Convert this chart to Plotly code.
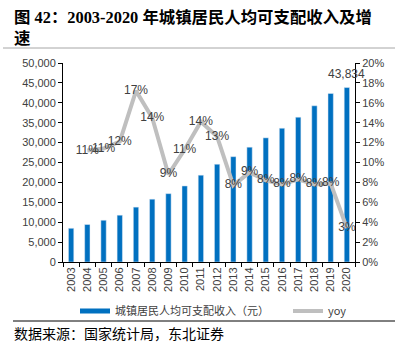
import plotly.graph_objects as go

# Urban per-capita disposable income (yuan) and year-on-year growth
years = [str(y) for y in range(2003, 2021)]
income = [8472, 9422, 10493, 11759, 13786, 15781, 17175, 19109, 21810,
          24565, 26467, 28844, 31195, 33616, 36396, 39251, 42359, 43834]
yoy = [None, 0.112, 0.114, 0.121, 0.172, 0.145, 0.088, 0.113, 0.141,
       0.126, 0.077, 0.090, 0.082, 0.078, 0.083, 0.078, 0.079, 0.034]

BLUE = "#0070C0"
GRAY = "#BFBFBF"
TXT = "#404040"
SANS = "Liberation Sans, Arial, Noto Sans CJK SC"
CJK = "Noto Sans CJK SC"

W, H = 403, 346
L, R, T, B = 63, 48, 63, 84
PW, PH = W - L - R, H - T - B


def px_x(px):
    return (px - L) / PW


def px_y(py):
    return (H - B - py) / PH


fig = go.Figure()

fig.add_trace(go.Bar(
    x=years, y=income, marker_color=BLUE, width=0.33, showlegend=False,
    name="城镇居民人均可支配收入（元）",
))

# legend entry for the bars, drawn as a wide bar-coloured stroke
fig.add_trace(go.Scatter(
    x=[None], y=[None], mode="lines", line=dict(color=BLUE, width=5),
    name="城镇居民人均可支配收入（元）", legend="legend",
))

fig.add_trace(go.Scatter(
    x=years, y=yoy, yaxis="y2", mode="lines+text", name="yoy",
    line=dict(color=GRAY, width=4), legend="legend2",
    texttemplate="%{y:.0%}", textposition="middle center",
    textfont=dict(family=SANS, size=12, color=TXT), cliponaxis=False,
))

axis_common = dict(showline=True, linecolor="black", linewidth=1,
                   ticks="outside", ticklen=4, tickcolor="black",
                   showgrid=False, zeroline=False,
                   tickfont=dict(family=SANS, size=11, color=TXT))

legend_common = dict(orientation="h", y=px_y(311), xanchor="left",
                     yanchor="middle", itemwidth=30,
                     font=dict(family=CJK, size=11, color=TXT),
                     bgcolor="rgba(0,0,0,0)")

fig.update_layout(
    width=W, height=H,
    margin=dict(l=L, r=R, t=T, b=B),
    plot_bgcolor="white", paper_bgcolor="white",
    bargap=0.6,
    xaxis=dict(type="category", tickangle=-90, tickson="boundaries",
               range=[-0.5, len(years) - 0.5], **axis_common),
    yaxis=dict(range=[0, 50000], dtick=5000, tickformat=",", **axis_common),
    yaxis2=dict(range=[0, 0.2], dtick=0.02, tickformat=".0%",
                overlaying="y", side="right", **axis_common),
    legend=dict(x=px_x(75), **legend_common),
    legend2=dict(x=px_x(288), **legend_common),
    showlegend=True,
    annotations=[
        # value label for the latest year's bar (category index position)
        dict(text=f"{income[-1]:,}", x=len(years) - 1, y=income[-1],
             xref="x", yref="y", yshift=14, showarrow=False,
             font=dict(family=SANS, size=12, color=TXT)),
        dict(text="<b>图 42：2003-2020 年城镇居民人均可支配收入及增</b>",
             xref="paper", yref="paper", x=px_x(12), y=px_y(17),
             xanchor="left", yanchor="middle", showarrow=False,
             font=dict(family="Liberation Serif, " + CJK, size=16.4, color="black")),
        dict(text="<b>速</b>",
             xref="paper", yref="paper", x=px_x(12), y=px_y(38),
             xanchor="left", yanchor="middle", showarrow=False,
             font=dict(family="Liberation Serif, " + CJK, size=16.4, color="black")),
        dict(text="数据来源：国家统计局，东北证券",
             xref="paper", yref="paper", x=px_x(12), y=px_y(333),
             xanchor="left", yanchor="middle", showarrow=False,
             font=dict(family=CJK, size=14, color="black")),
    ],
    shapes=[
        dict(type="line", xref="paper", yref="paper",
             x0=px_x(3), x1=px_x(395), y0=px_y(48), y1=px_y(48),
             line=dict(color="#A6A6A6", width=1)),
        dict(type="line", xref="paper", yref="paper",
             x0=px_x(13), x1=px_x(395), y0=px_y(321), y1=px_y(321),
             line=dict(color="black", width=1)),
    ],
)

fig.write_html("out.html")
